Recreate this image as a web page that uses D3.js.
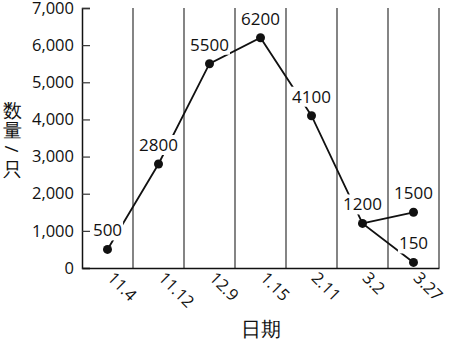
<!DOCTYPE html>
<html>
<head>
<meta charset="utf-8">
<script src="https://cdn.jsdelivr.net/npm/d3@7"></script>
<style>
  body { margin: 0; background: #fff; }
  text { font-family: "Open Sans", "Noto Sans", sans-serif; }
</style>
</head>
<body>
<svg id="chart" width="449" height="345"></svg>
<script>
const dates = ["11.4", "11.12", "12.9", "1.15", "2.11", "3.2", "3.27"];
const mainValues = [500, 2800, 5500, 6200, 4100, 1200, 150];
const branchDates = ["3.2", "3.27"];
const branchValues = [1200, 1500];
const yTicks = [0, 1000, 2000, 3000, 4000, 5000, 6000, 7000];
const yTitle = ["数", "量", "/", "只"];

const plotLeft = 82, plotRight = 439, plotTop = 8, plotBottom = 268;

const svg = d3.select("#chart");

const x = d3.scaleBand().domain(dates).range([plotLeft, plotRight]);
const y = d3.scaleLinear().domain([0, 7000]).range([plotBottom, plotTop]);

// vertical separators between dates
svg.append("g")
   .selectAll("line")
   .data(dates)
   .join("line")
   .attr("x1", d => x(d) + x.bandwidth())
   .attr("x2", d => x(d) + x.bandwidth())
   .attr("y1", plotTop)
   .attr("y2", plotBottom)
   .attr("stroke", "#333")
   .attr("stroke-width", 1.2);

// y axis, ticks pointing inward
const yAxis = svg.append("g")
   .attr("transform", `translate(${plotLeft},0)`)
   .call(d3.axisLeft(y).tickValues(yTicks).tickSize(-8).tickPadding(8)
      .tickFormat(d3.format(",")));
yAxis.select(".domain").attr("stroke", "#111").attr("stroke-width", 1.5);
yAxis.selectAll(".tick line").attr("stroke", "#333").attr("stroke-width", 1.2);
yAxis.selectAll("text").attr("font-size", 16.5).attr("fill", "#111");

// x axis
const xAxis = svg.append("g")
   .attr("transform", `translate(0,${plotBottom})`)
   .call(d3.axisBottom(x).tickSize(0).tickPadding(0));
xAxis.select(".domain").attr("stroke", "#111").attr("stroke-width", 1.5);
xAxis.selectAll("text")
   .attr("font-size", 16.5)
   .attr("fill", "#111")
   .attr("text-anchor", "start")
   .attr("dy", null)
   .attr("y", 0)
   .attr("transform", "translate(-1,11) rotate(45)");

// lines
const line = d3.line()
   .x(d => x(d[0]) + x.bandwidth() / 2)
   .y(d => y(d[1]));

const mainPts = dates.map((d, i) => [d, mainValues[i]]);
const branchPts = branchDates.map((d, i) => [d, branchValues[i]]);

svg.append("path")
   .datum(mainPts)
   .attr("d", line)
   .attr("fill", "none")
   .attr("stroke", "#111")
   .attr("stroke-width", 1.8);

svg.append("path")
   .datum(branchPts)
   .attr("d", line)
   .attr("fill", "none")
   .attr("stroke", "#111")
   .attr("stroke-width", 1.8);

const allPts = mainPts.concat(branchPts.slice(1));

// value labels on a white box so the line breaks behind them
const labelG = svg.append("g")
   .selectAll("g")
   .data(allPts)
   .join("g");

labelG.append("text")
   .attr("x", d => x(d[0]) + x.bandwidth() / 2)
   .attr("y", d => y(d[1]) - 13)
   .attr("text-anchor", "middle")
   .attr("font-size", 17)
   .attr("fill", "#111")
   .text(d => d[1]);

labelG.each(function () {
   const g = d3.select(this);
   const b = g.select("text").node().getBBox();
   g.insert("rect", "text")
      .attr("x", b.x - 1)
      .attr("y", b.y + 2)
      .attr("width", b.width + 2)
      .attr("height", b.height - 3)
      .attr("fill", "#fff");
});

svg.append("g")
   .selectAll("circle")
   .data(allPts)
   .join("circle")
   .attr("cx", d => x(d[0]) + x.bandwidth() / 2)
   .attr("cy", d => y(d[1]))
   .attr("r", 4.5)
   .attr("fill", "#111");

// axis titles
svg.append("text")
   .attr("x", 261)
   .attr("y", 336)
   .attr("text-anchor", "middle")
   .attr("font-size", 20)
   .attr("font-family", "Noto Sans CJK SC")
   .attr("font-weight", 500)
   .attr("fill", "#111")
   .text("日期");

// vertical y title, one character per row, slash turned sideways
svg.append("g")
   .selectAll("text")
   .data(yTitle)
   .join("text")
   .attr("text-anchor", "middle")
   .attr("dominant-baseline", "central")
   .attr("font-size", 19)
   .attr("font-family", "Noto Sans CJK SC")
   .attr("font-weight", 500)
   .attr("fill", "#111")
   .attr("transform", (d, i) => {
      const cy = [110, 130, 149, 169][i];
      return d === "/" ? `translate(12,${cy}) rotate(90)` : `translate(12,${cy})`;
   })
   .text(d => d);
</script>
</body>
</html>
